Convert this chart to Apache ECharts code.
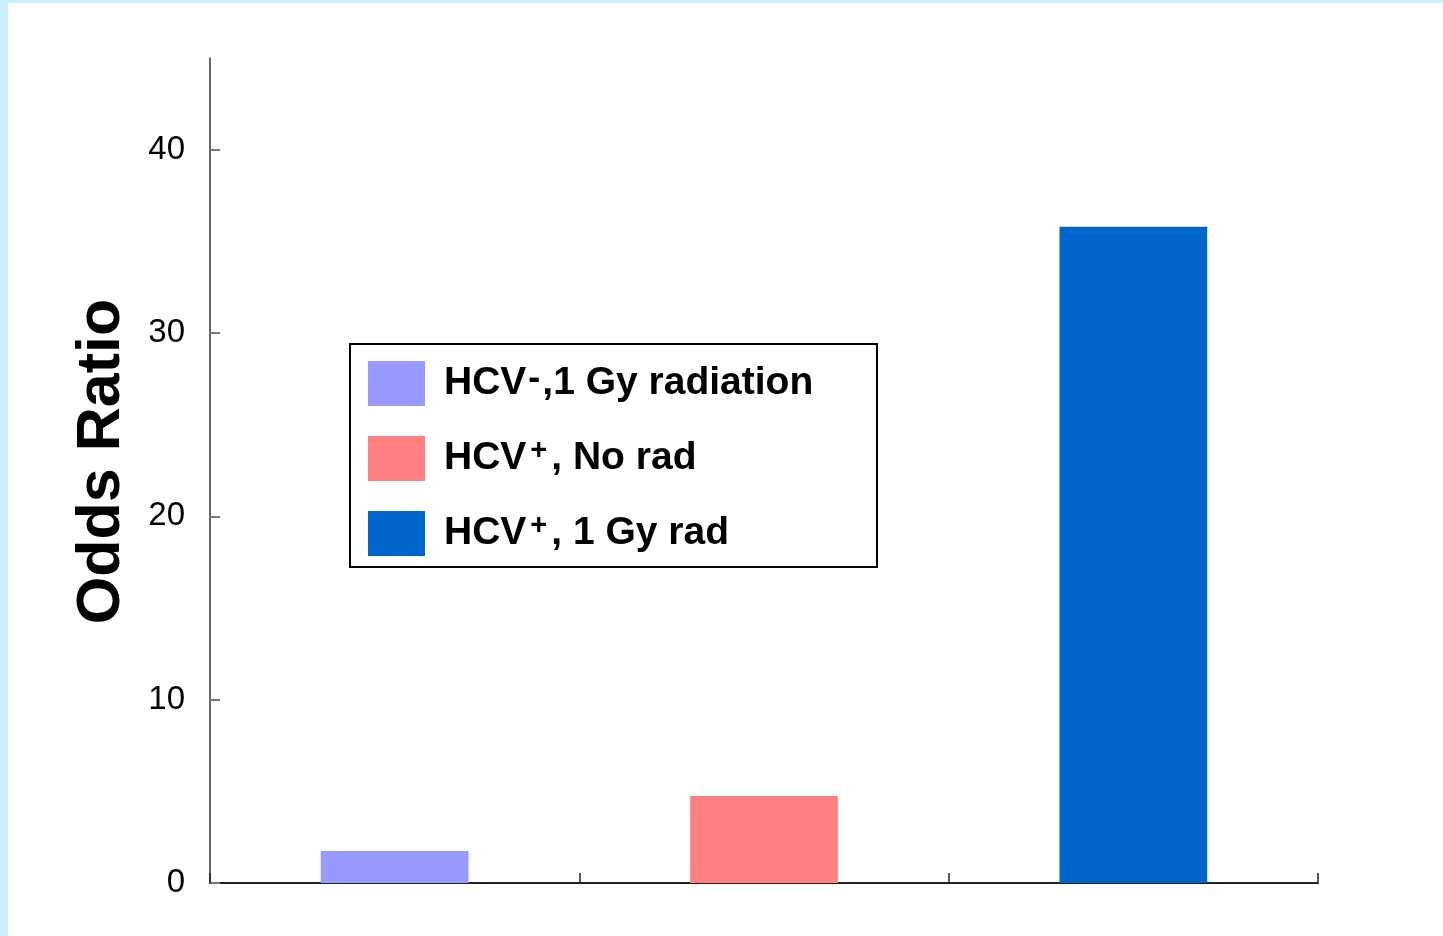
<!DOCTYPE html>
<html>
<head>
<meta charset="utf-8">
<script src="https://cdn.jsdelivr.net/npm/echarts@6/dist/echarts.min.js"></script>
<style>
  html, body { margin: 0; padding: 0; background: #cceeff; }
  #chart { position: absolute; left: 8px; top: 3px; width: 1435px; height: 933px; background: #ffffff; }
</style>
</head>
<body>
<div id="chart"></div>
<script>
// Odds ratios for the three exposure groups
const categories = ['HCV-,1 Gy radiation', 'HCV+, No rad', 'HCV+, 1 Gy rad'];
const oddsRatio = [1.75, 4.75, 35.8];
const barColors = ['#9999ff', '#ff8080', '#0066cc'];
const yTicks = [0, 10, 20, 30, 40];

// Legend labels with the HCV status written as a superscript sign
const legendRich = {
  'HCV-,1 Gy radiation': '{b|HCV}{m|-}{b|,1 Gy radiation}',
  'HCV+, No rad': '{b|HCV}{p|+}{b|, No rad}',
  'HCV+, 1 Gy rad': '{b|HCV}{p|+}{b|, 1 Gy rad}'
};

const chart = echarts.init(document.getElementById('chart'), null, { renderer: 'canvas' });

// one series per group so each bar gets its own legend entry; bars overlap at the category centre
const series = categories.map((name, i) => ({
  name: name,
  type: 'bar',
  barWidth: '40%',
  barGap: '-100%',
  itemStyle: { color: barColors[i] },
  data: categories.map((c, j) => (j === i ? oddsRatio[i] : null)),
  animation: false
}));

const legendFont = { fontFamily: 'Liberation Sans', fontWeight: 'bold', color: '#000' };

chart.setOption({
  animation: false,
  grid: { left: 202, right: 125, top: 55, bottom: 53 },
  xAxis: {
    type: 'category',
    data: categories,
    boundaryGap: true,
    axisLine: { lineStyle: { color: '#222', width: 2 } },
    axisTick: { show: true, inside: true, length: 10, lineStyle: { color: '#222', width: 1.5 } },
    axisLabel: { show: false },
    splitLine: { show: false }
  },
  yAxis: {
    type: 'value',
    min: 0,
    max: 45,
    interval: 10,
    name: 'Odds Ratio',
    nameLocation: 'middle',
    nameGap: 77,
    nameRotate: 90,
    nameTextStyle: {
      fontFamily: 'Liberation Sans', fontWeight: 'bold', fontSize: 61, color: '#000',
      padding: [0, 0, 0, 18]
    },
    axisLine: { show: true, lineStyle: { color: '#333', width: 1.5 } },
    axisTick: { show: true, inside: true, length: 10, customValues: yTicks, lineStyle: { color: '#777', width: 2 } },
    axisLabel: {
      customValues: yTicks,
      margin: 25,
      fontFamily: 'Liberation Sans',
      fontSize: 33,
      color: '#000'
    },
    splitLine: { show: false }
  },
  legend: {
    orient: 'vertical',
    left: 360,
    top: 358,
    padding: 0,
    itemWidth: 57,
    itemHeight: 45,
    itemGap: 30,
    icon: 'rect',
    selectedMode: false,
    data: categories.map((name, i) => ({
      name: name,
      itemStyle: { color: barColors[i] }
    })),
    formatter: (name) => legendRich[name],
    textStyle: {
      padding: [0, 0, 0, 14],
      rich: {
        b: Object.assign({ fontSize: 39, lineHeight: 44 }, legendFont),
        p: Object.assign({ fontSize: 29, lineHeight: 14, verticalAlign: 'top', padding: [0, 4, 0, 4] }, legendFont),
        m: Object.assign({ fontSize: 36, lineHeight: 1, verticalAlign: 'top', padding: [0, 2, 0, 2] }, legendFont)
      }
    }
  },
  graphic: [{
    type: 'rect',
    shape: { x: 342, y: 341, width: 527, height: 223 },
    style: { fill: 'none', stroke: '#000', lineWidth: 2 },
    silent: true
  }],
  series: series
});
</script>
</body>
</html>
